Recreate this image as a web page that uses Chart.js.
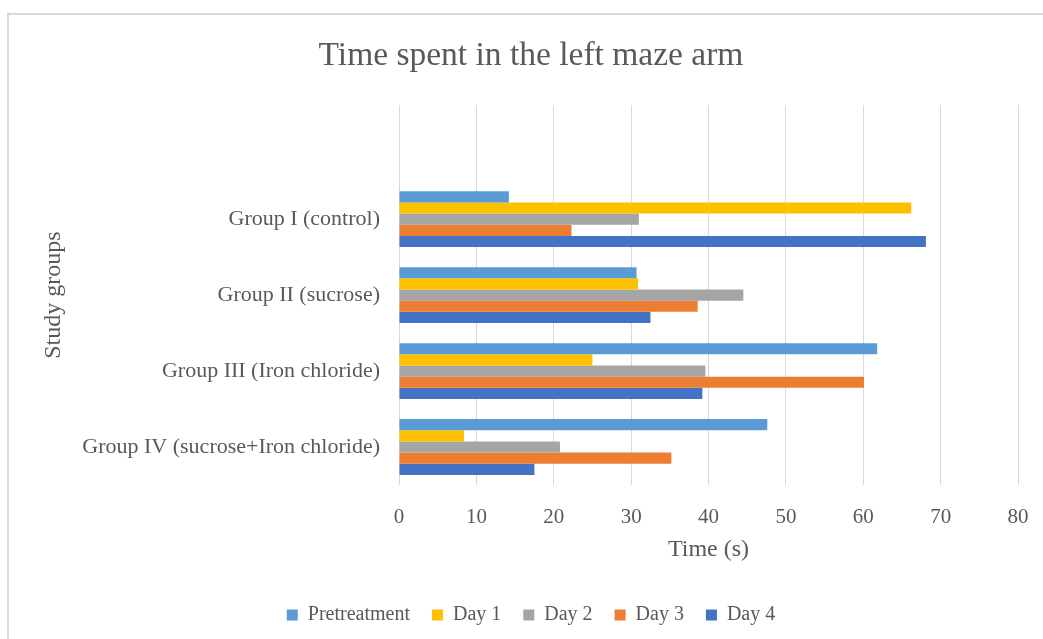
<!DOCTYPE html>
<html>
<head>
<meta charset="utf-8">
<script src="https://cdn.jsdelivr.net/npm/chart.js@4.4.1/dist/chart.umd.min.js"></script>
<style>
  html, body { margin: 0; padding: 0; background: #ffffff; overflow: hidden; }
  #frame { position: absolute; left: 7px; top: 13px; width: 1100px; height: 700px;
           border-left: 2px solid #d9d9d9; border-top: 2px solid #d9d9d9; }
  #wrap { position: absolute; left: 0; top: 0; width: 1043px; height: 639px; }
</style>
</head>
<body>
<div id="frame"></div>
<div id="wrap"><canvas id="c" width="1043" height="639"></canvas></div>
<script>
// ---- data ----
const categories = ["", "Group I (control)", "Group II (sucrose)", "Group III (Iron chloride)", "Group IV (sucrose+Iron chloride)"];
const pretreatment = [null, 14.2, 30.7, 61.8, 47.6];
const day1 = [null, 66.2, 30.9, 25.0, 8.4];
const day2 = [null, 31.0, 44.5, 39.6, 20.8];
const day3 = [null, 22.3, 38.6, 60.1, 35.2];
const day4 = [null, 68.1, 32.5, 39.2, 17.5];
const seriesNames = ["Pretreatment", "Day 1", "Day 2", "Day 3", "Day 4"];
const xTicks = [0, 10, 20, 30, 40, 50, 60, 70, 80];

const colors = ["#5B9BD5", "#FFC000", "#A5A5A5", "#ED7D31", "#4472C4"];
const seriesData = [pretreatment, day1, day2, day3, day4];

Chart.defaults.font.family = "'Liberation Serif', 'Times New Roman', serif";
Chart.defaults.color = "#595959";

const datasets = seriesNames.map((name, i) => ({
  label: name,
  data: seriesData[i],
  backgroundColor: colors[i],
  borderWidth: 0,
  categoryPercentage: 0.735,
  barPercentage: 1.0
}));

new Chart(document.getElementById('c'), {
  type: 'bar',
  data: { labels: categories, datasets },
  options: {
    indexAxis: 'y',
    responsive: false,
    animation: false,
    layout: { padding: { left: 44, right: 25, top: 0, bottom: 4 } },
    plugins: {
      title: {
        display: true,
        text: "Time spent in the left maze arm",
        font: { size: 33.5, weight: 'normal' },
        color: "#595959",
        padding: { top: 36, bottom: 29 }
      },
      legend: {
        position: 'bottom',
        labels: {
          boxWidth: 11, boxHeight: 11, padding: 22,
          font: { size: 20 }, color: "#595959"
        }
      },
      tooltip: { enabled: false }
    },
    scales: {
      x: {
        type: 'linear',
        min: xTicks[0],
        max: xTicks[xTicks.length - 1],
        afterBuildTicks: (scale) => { scale.ticks = xTicks.map(v => ({ value: v })); },
        grid: { color: "#D9D9D9", lineWidth: 1, drawTicks: true, tickLength: 18, tickColor: 'rgba(0,0,0,0)' },
        border: { display: false },
        ticks: { padding: 2, font: { size: 21 }, color: "#595959" },
        title: {
          display: true, text: "Time (s)",
          font: { size: 24 }, color: "#595959",
          padding: { top: 3, bottom: 19 }
        }
      },
      y: {
        grid: { display: false, drawTicks: false },
        border: { display: false },
        ticks: { padding: 19, font: { size: 22 }, color: "#595959" },
        title: {
          display: true, text: "Study groups",
          font: { size: 24 }, color: "#595959",
          padding: { top: -5, bottom: 0 }
        },
        afterFit: (scale) => { scale.width = 355; }
      }
    }
  }
});
</script>
</body>
</html>
